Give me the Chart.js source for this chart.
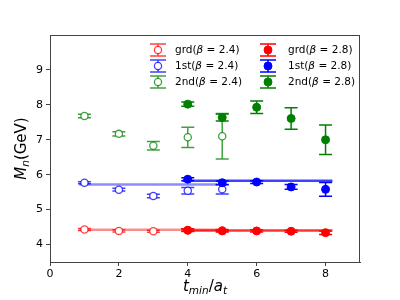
<!DOCTYPE html>
<html>
<head>
<meta charset="utf-8">
<script src="https://cdn.jsdelivr.net/npm/chart.js@4.4.1/dist/chart.umd.min.js"></script>
<style>
  html, body { margin: 0; padding: 0; background: #fff; }
  canvas { display: block; }
</style>
</head>
<body>
<canvas id="massChart" width="400" height="300"></canvas>
<script>
// t_min values
const tOpen = [1, 2, 3, 4, 5];
const tFill = [4, 5, 6, 7, 8];

// beta = 2.4 (open markers)
const grd24 = [4.43, 4.39, 4.38, 4.41, 4.40];
const grd24Err = [0.03, 0.03, 0.03, 0.03, 0.03];
const st24 = [5.77, 5.57, 5.39, 5.54, 5.58];
const st24Err = [0.03, 0.04, 0.05, 0.09, 0.13];
const nd24 = [7.68, 7.17, 6.83, 7.07, 7.10];
const nd24Err = [0.05, 0.06, 0.12, 0.29, 0.65];

// beta = 2.8 (filled markers)
const grd28 = [4.41, 4.39, 4.39, 4.38, 4.34];
const grd28Err = [0.04, 0.03, 0.03, 0.03, 0.05];
const st28 = [5.87, 5.77, 5.79, 5.65, 5.58];
const st28Err = [0.04, 0.05, 0.04, 0.07, 0.20];
const nd28 = [8.02, 7.64, 7.93, 7.61, 7.00];
const nd28Err = [0.06, 0.10, 0.18, 0.31, 0.42];

// fitted plateaus
const fitRange24 = [0.85, 4.85];
const fitRange28 = [3.85, 8.2];
const fitGrd24 = 4.42;
const fitGrd28 = 4.40;
const fitSt24 = 5.72;
const fitSt28 = 5.83;

const xTicks = [0, 2, 4, 6, 8];
const yTicks = [4, 5, 6, 7, 8, 9];

const FONT = "'DejaVu Sans', sans-serif";
const RED = '#ff0000', BLUE = '#0000ff', GREEN = '#008000';
const RED_O = 'rgba(255,0,0,0.75)', BLUE_O = 'rgba(0,0,255,0.75)', GREEN_O = 'rgba(0,128,0,0.75)';

const series = [
    { label: 'grd', beta: '2.4', x: tOpen, y: grd24, err: grd24Err, color: RED_O, open: true },
    { label: '1st', beta: '2.4', x: tOpen, y: st24, err: st24Err, color: BLUE_O, open: true },
    { label: '2nd', beta: '2.4', x: tOpen, y: nd24, err: nd24Err, color: GREEN_O, open: true },
    { label: 'grd', beta: '2.8', x: tFill, y: grd28, err: grd28Err, color: RED, open: false },
    { label: '1st', beta: '2.8', x: tFill, y: st28, err: st28Err, color: BLUE, open: false },
    { label: '2nd', beta: '2.8', x: tFill, y: nd28, err: nd28Err, color: GREEN, open: false }
];

function fitLine(range, val, color) {
    return {
        data: [{ x: range[0], y: val }, { x: range[1], y: val }],
        showLine: true, borderColor: color, borderWidth: 2.5,
        pointRadius: 0, order: 3
    };
}

const datasets = [
    fitLine(fitRange24, fitGrd24, 'rgba(255,0,0,0.45)'),
    fitLine(fitRange28, fitGrd28, 'rgba(255,0,0,0.8)'),
    fitLine(fitRange24, fitSt24, 'rgba(0,0,255,0.45)'),
    fitLine(fitRange28, fitSt28, 'rgba(0,0,255,0.75)')
];
series.forEach(s => {
    datasets.push({
        data: s.x.map((t, i) => ({ x: t, y: s.y[i] })),
        pointStyle: 'circle',
        pointRadius: s.open ? 3.6 : 4,
        borderWidth: s.open ? 1.3 : 1,
        borderColor: s.color,
        backgroundColor: s.open ? '#ffffff' : s.color,
        showLine: false,
        order: s.open ? 2 : 1
    });
});

// draw text pieces with italic / subscript parts
function richText(ctx, parts, size) {
    let w = 0;
    parts.forEach(p => {
        const fs = p.sub ? size * 0.7 : size;
        ctx.font = (p.it ? 'italic ' : '') + fs + 'px ' + FONT;
        p.w = ctx.measureText(p.t).width;
        p.fs = fs;
        w += p.w;
    });
    return w;
}
function drawRich(ctx, parts, x, y, size, align) {
    const w = richText(ctx, parts, size);
    let cx = align === 'center' ? x - w / 2 : x;
    ctx.textBaseline = 'middle';
    ctx.textAlign = 'left';
    ctx.fillStyle = '#000';
    parts.forEach(p => {
        ctx.font = (p.it ? 'italic ' : '') + p.fs + 'px ' + FONT;
        ctx.fillText(p.t, cx, y + (p.sub ? size * 0.3 : 0));
        cx += p.w;
    });
}

function drawErrorBar(ctx, px, py0, py1, color, cap) {
    ctx.strokeStyle = color;
    ctx.lineWidth = 1.5;
    ctx.beginPath();
    ctx.moveTo(px, py0); ctx.lineTo(px, py1);
    ctx.moveTo(px - cap, py0); ctx.lineTo(px + cap, py0);
    ctx.moveTo(px - cap, py1); ctx.lineTo(px + cap, py1);
    ctx.stroke();
}

const errorBars = {
    id: 'errorBars',
    beforeDatasetsDraw(chart) {
        const ctx = chart.ctx, xs = chart.scales.x, ys = chart.scales.y;
        ctx.save();
        series.forEach(s => {
            s.x.forEach((t, i) => {
                const px = xs.getPixelForValue(t);
                drawErrorBar(ctx, px, ys.getPixelForValue(s.y[i] + s.err[i]),
                    ys.getPixelForValue(s.y[i] - s.err[i]), s.color, 6.5);
            });
        });
        ctx.restore();
    }
};

const decorations = {
    id: 'decorations',
    afterDraw(chart) {
        const ctx = chart.ctx, a = chart.chartArea;
        ctx.save();
        // top and right spines
        ctx.strokeStyle = '#444';
        ctx.lineWidth = 1;
        ctx.beginPath();
        ctx.moveTo(a.left, a.top + 0.5); ctx.lineTo(a.right, a.top + 0.5);
        ctx.moveTo(a.right - 0.5, a.top); ctx.lineTo(a.right - 0.5, a.bottom);
        ctx.stroke();

        // axis titles
        drawRich(ctx, [{ t: 't', it: true }, { t: 'min', it: true, sub: true },
            { t: '/' }, { t: 'a', it: true }, { t: 't', it: true, sub: true }],
            (a.left + a.right) / 2, 287, 15, 'center');
        ctx.save();
        ctx.translate(22, (a.top + a.bottom) / 2);
        ctx.rotate(-Math.PI / 2);
        drawRich(ctx, [{ t: 'M', it: true }, { t: 'n', it: true, sub: true }, { t: '(GeV)' }],
            0, 0, 15, 'center');
        ctx.restore();

        // legend
        const colX = [158, 268], textX = [175, 288], rowY = [50, 66, 82];
        series.forEach((s, k) => {
            const c = Math.floor(k / 3), r = k % 3;
            const mx = colX[c], my = rowY[r];
            drawErrorBar(ctx, mx, my - 6, my + 6, s.color, 8);
            ctx.beginPath();
            ctx.arc(mx, my, s.open ? 3.6 : 4, 0, Math.PI * 2);
            ctx.fillStyle = s.open ? '#fff' : s.color;
            ctx.fill();
            ctx.lineWidth = s.open ? 1.3 : 1;
            ctx.strokeStyle = s.color;
            ctx.stroke();
            drawRich(ctx, [{ t: s.label + '(' }, { t: 'β', it: true }, { t: ' = ' + s.beta + ')' }],
                textX[c], my, 10.5, 'left');
        });
        ctx.restore();
    }
};

new Chart(document.getElementById('massChart').getContext('2d'), {
    type: 'scatter',
    data: { datasets: datasets },
    options: {
        responsive: false,
        animation: false,
        devicePixelRatio: 1,
        layout: { padding: { top: 35, right: 40, left: 0, bottom: 0 } },
        plugins: { legend: { display: false }, tooltip: { enabled: false } },
        scales: {
            x: {
                type: 'linear', min: 0, max: 9,
                afterBuildTicks: s => { s.ticks = xTicks.map(v => ({ value: v })); },
                afterFit: s => { s.height = 38; },
                ticks: { color: '#000', font: { family: FONT, size: 11 }, padding: 2 },
                grid: { drawOnChartArea: false, drawTicks: true, tickLength: 4, color: '#444' },
                border: { display: true, color: '#444', width: 1 }
            },
            y: {
                type: 'linear', min: 3.5, max: 10,
                afterBuildTicks: s => { s.ticks = yTicks.map(v => ({ value: v })); },
                afterFit: s => { s.width = 50; },
                ticks: { color: '#000', font: { family: FONT, size: 11 }, padding: 3 },
                grid: { drawOnChartArea: false, drawTicks: true, tickLength: 4, color: '#444' },
                border: { display: true, color: '#444', width: 1 }
            }
        }
    },
    plugins: [errorBars, decorations]
});
</script>
</body>
</html>
